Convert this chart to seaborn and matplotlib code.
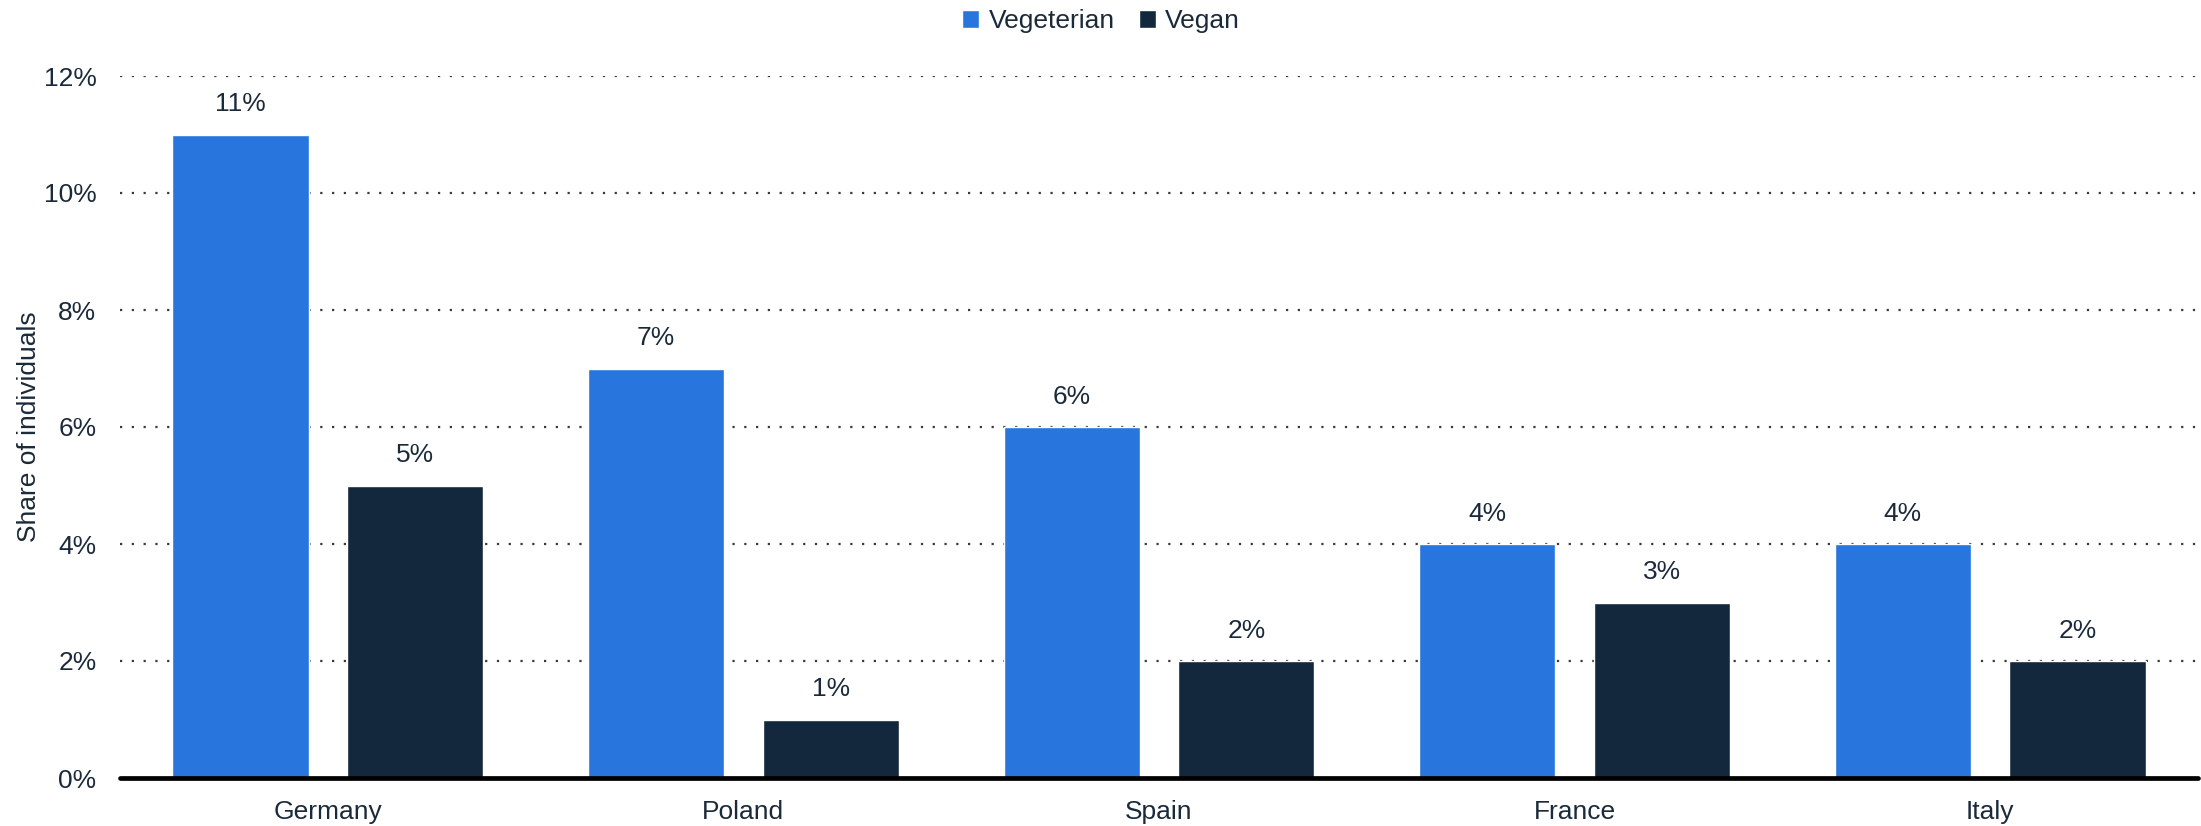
import pandas as pd
import matplotlib
matplotlib.use("Agg")
import matplotlib.pyplot as plt
import seaborn as sns

# values (share of individuals, %)
countries = ["Germany", "Poland", "Spain", "France", "Italy"]
vegetarian = [11, 7, 6, 4, 4]
vegan = [5, 1, 2, 3, 2]
series_names = ["Vegeterian", "Vegan"]
y_ticks = [0, 2, 4, 6, 8, 10, 12]

df = pd.DataFrame({
    "Country": countries * 2,
    "Diet": [series_names[0]] * len(countries) + [series_names[1]] * len(countries),
    "Share": vegetarian + vegan,
})

sns.set_theme(style="white")
plt.rcParams["font.family"] = ["Liberation Sans", "DejaVu Sans"]
text_color = "#1b2a3a"
fs = 19

fig = plt.figure(figsize=(22.01, 8.26), dpi=100)
ax = fig.add_axes([120 / 2201, 1 - 778 / 826, (2198 - 120) / 2201, (778 - 76) / 826])

palette = {"Vegeterian": "#2876dd", "Vegan": "#13283d"}
sns.barplot(data=df, x="Country", y="Share", hue="Diet", order=countries,
            hue_order=series_names, palette=palette, width=0.84, gap=0.22,
            saturation=1, ax=ax, zorder=3)

for cont in ax.containers:
    ax.bar_label(cont, labels=[f"{int(v)}%" for v in cont.datavalues],
                 padding=13, fontsize=fs, color=text_color)

ax.set_ylim(0, 12)
ax.set_xlim(-0.5, len(countries) - 0.5)
ax.set_yticks(y_ticks)
ax.set_yticklabels([f"{t}%" for t in y_ticks])
for t in y_ticks[1:]:
    ax.axhline(t, color="#3a3a3a", lw=1.6, ls=(0, (1, 4.3)), zorder=1)
ax.axhline(0, color="black", lw=3.4, zorder=4, clip_on=False)

for s in ax.spines.values():
    s.set_visible(False)
ax.tick_params(axis="both", length=0, labelsize=fs, colors=text_color)
ax.tick_params(axis="y", pad=17)
ax.tick_params(axis="x", pad=16)
ax.set_xlabel("")
ax.set_ylabel("Share of individuals", fontsize=fs, color=text_color, labelpad=2)

handles, labels = ax.get_legend_handles_labels()
ax.legend_.remove()
fig.legend(handles, labels, loc="center", bbox_to_anchor=(1101 / 2201, 1 - 21 / 826),
           ncol=2, frameon=False, fontsize=fs, handlelength=0.65, handleheight=0.65,
           handletextpad=0.35, columnspacing=0.9, labelcolor=text_color)

fig.savefig("out.png", dpi=100)
